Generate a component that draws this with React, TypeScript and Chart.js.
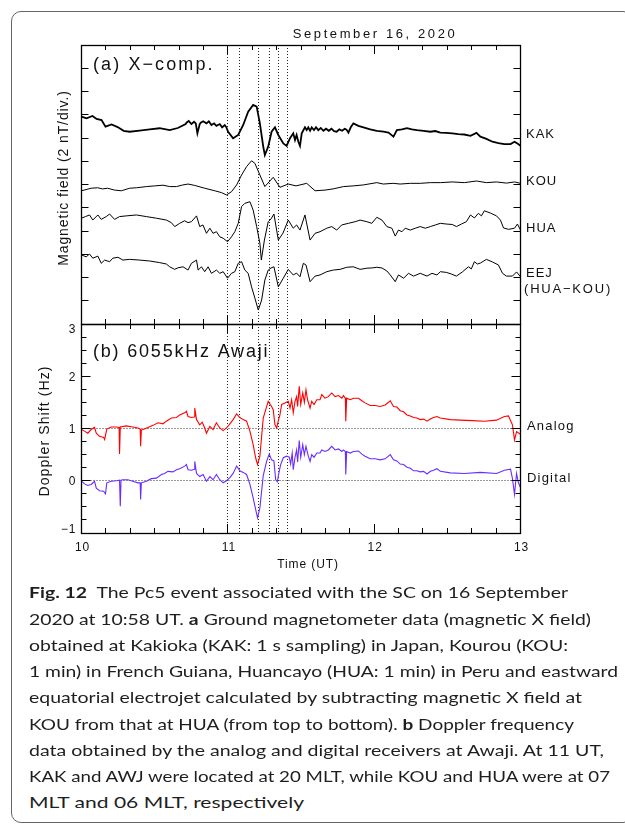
import React, { useEffect, useLayoutEffect, useRef } from 'react';
import { Chart, registerables } from 'chart.js';

Chart.register(...registerables);

// ---------------- axes / ticks ----------------
const TIME_MIN = 10;
const TIME_MAX = 13;
const TIME_MAJOR = [10, 11, 12, 13];
const TIME_LABELS = ['10', '11', '12', '13'];
const TIME_MINOR_STEP = 1 / 6;
const EVENT_TIMES = [11.0, 11.083, 11.208, 11.283, 11.345, 11.41];

const MAG_MIN = 0;
const MAG_MAX = 12;
const MAG_TICKS = [1, 2, 3, 4, 5, 6, 7, 8, 9, 10, 11];

const DOP_MIN = -1;
const DOP_MAX = 3;
const DOP_MAJOR = [-1, 0, 1, 2, 3];
const DOP_LABELS = ['\u22121', '0', '1', '2', '3'];
const DOP_MINOR_STEP = 0.25;
const DOP_REF = [0, 1];

const STATION_NAMES = ['KAK', 'KOU', 'HUA', 'EEJ', '(HUA\u2212KOU)'];
const RECEIVER_NAMES = ['Analog', 'Digital'];

// ---------------- series (time UT, value) ----------------
const KAK: [number, number][] = [
  [10.0, 8.92], [10.034, 8.85], [10.075, 8.95], [10.103, 8.82], [10.137, 8.77], [10.164, 8.49],
  [10.205, 8.58], [10.247, 8.47], [10.288, 8.31], [10.329, 8.27], [10.397, 8.32], [10.466, 8.37],
  [10.534, 8.42], [10.603, 8.34], [10.658, 8.43], [10.712, 8.6], [10.717, 8.66], [10.733, 8.73],
  [10.751, 8.6], [10.769, 8.7], [10.781, 8.63], [10.792, 8.2], [10.808, 8.6], [10.815, 8.66],
  [10.831, 8.72], [10.854, 8.63], [10.87, 8.72], [10.888, 8.56], [10.906, 8.63], [10.922, 8.52],
  [10.945, 8.6], [10.961, 8.46], [10.979, 8.56], [10.99, 8.46],
  [11.002, 8.27], [11.036, 7.99], [11.071, 8.13], [11.105, 8.56], [11.139, 9.13], [11.173, 9.42],
  [11.197, 9.35], [11.219, 8.63], [11.242, 7.63], [11.253, 7.27], [11.276, 7.63], [11.299, 8.27],
  [11.322, 8.46], [11.345, 8.13], [11.379, 7.77], [11.402, 7.66], [11.425, 7.99], [11.447, 8.2],
  [11.459, 7.91], [11.47, 8.13], [11.482, 7.84], [11.493, 7.66], [11.505, 8.2], [11.527, 8.46],
  [11.539, 8.34], [11.55, 8.46], [11.562, 8.31], [11.573, 8.46], [11.589, 8.34], [11.603, 8.46],
  [11.618, 8.34], [11.635, 8.43], [11.653, 8.31], [11.671, 8.4], [11.69, 8.31], [11.708, 8.4],
  [11.726, 8.29], [11.744, 8.27], [11.762, 8.37], [11.781, 8.31], [11.799, 8.4], [11.811, 8.36],
  [11.824, 8.23], [11.84, 8.46], [11.858, 8.63],
  [11.892, 8.52], [11.927, 8.46], [11.973, 8.37], [12.018, 8.31], [12.064, 8.27], [12.098, 8.23],
  [12.132, 8.06], [12.155, 8.34], [12.19, 8.37], [12.224, 8.42], [12.258, 8.37], [12.292, 8.34],
  [12.338, 8.31], [12.384, 8.27], [12.418, 8.3], [12.452, 8.23], [12.493, 8.22], [12.534, 8.2],
  [12.575, 8.17], [12.616, 8.15], [12.658, 8.09], [12.699, 8.22], [12.726, 8.06], [12.767, 7.96],
  [12.808, 7.84], [12.849, 7.78], [12.89, 7.74], [12.932, 7.74], [12.959, 7.84], [12.979, 7.76],
  [13.0, 7.67],
];

const KOU: [number, number][] = [
  [10.0, 5.73], [10.066, 5.84], [10.11, 5.86], [10.144, 5.81], [10.178, 5.84], [10.226, 5.76],
  [10.272, 5.73], [10.329, 5.84], [10.377, 5.86], [10.443, 5.91], [10.5, 5.94], [10.557, 5.97],
  [10.603, 5.91], [10.649, 5.91], [10.692, 5.98], [10.728, 6.02], [10.774, 5.96], [10.842, 5.84],
  [10.911, 5.73], [10.957, 5.65], [10.991, 5.55], [11.025, 5.69], [11.06, 5.98], [11.094, 6.41],
  [11.128, 6.77], [11.162, 7.02], [11.185, 6.91], [11.219, 6.41], [11.253, 5.91], [11.31, 6.31],
  [11.356, 5.88], [11.413, 6.02], [11.466, 5.94], [11.539, 6.05], [11.596, 5.73], [11.664, 5.76],
  [11.719, 5.81], [11.79, 5.91], [11.856, 5.94], [11.925, 5.98], [12.018, 6.08], [12.062, 6.02],
  [12.13, 6.05], [12.178, 6.02], [12.247, 6.05], [12.315, 6.05], [12.384, 6.08], [12.452, 6.08],
  [12.534, 6.11], [12.616, 6.08], [12.699, 6.15], [12.767, 6.08], [12.836, 6.11], [12.904, 6.06],
  [12.959, 6.11], [13.0, 6.05],
];

const HUA: [number, number][] = [
  [10.0, 4.55], [10.027, 4.62], [10.055, 4.69], [10.077, 4.47], [10.112, 4.69], [10.135, 4.5],
  [10.169, 4.62], [10.192, 4.73], [10.226, 4.5], [10.26, 4.62], [10.306, 4.65], [10.375, 4.69],
  [10.443, 4.62], [10.512, 4.55], [10.58, 4.47], [10.614, 4.36], [10.637, 4.19], [10.671, 4.33],
  [10.705, 4.44], [10.728, 4.36], [10.751, 4.4], [10.786, 4.65], [10.808, 4.19], [10.83, 4.26],
  [10.854, 3.9], [10.877, 4.12], [10.899, 3.9], [10.922, 3.97], [10.945, 3.75], [10.968, 3.69],
  [10.998, 3.54], [11.025, 3.75], [11.048, 3.97], [11.071, 4.33], [11.094, 5.05], [11.116, 5.19],
  [11.151, 5.26], [11.173, 4.9], [11.197, 4.19], [11.219, 3.47], [11.229, 2.75], [11.25, 3.61],
  [11.276, 4.4], [11.295, 4.52], [11.315, 4.73], [11.345, 3.61], [11.377, 3.91], [11.413, 4.47],
  [11.447, 4.12], [11.47, 4.26], [11.493, 4.04], [11.527, 4.69], [11.562, 3.61], [11.596, 3.9],
  [11.63, 3.97], [11.676, 4.12], [11.71, 4.19], [11.744, 4.04], [11.778, 4.26], [11.824, 4.33],
  [11.87, 4.4], [11.904, 4.47], [11.95, 4.4], [11.984, 4.33], [12.018, 4.59], [12.053, 4.47],
  [12.087, 4.19], [12.121, 4.12], [12.144, 3.78], [12.166, 4.04], [12.19, 3.97], [12.212, 4.12],
  [12.247, 4.04], [12.281, 4.12], [12.315, 4.19], [12.349, 4.12], [12.384, 4.19], [12.418, 4.26],
  [12.452, 4.33], [12.493, 4.3], [12.534, 4.28], [12.562, 4.19], [12.596, 4.3], [12.63, 4.4],
  [12.658, 4.69], [12.685, 4.56], [12.712, 4.76], [12.733, 4.65], [12.753, 4.87], [12.795, 4.77],
  [12.836, 4.65], [12.863, 4.47], [12.884, 4.13], [12.918, 4.07], [12.959, 4.12], [12.979, 4.3],
  [13.0, 4.04],
];

const EEJ: [number, number][] = [
  [10.0, 2.97], [10.032, 2.89], [10.055, 3.01], [10.077, 2.83], [10.112, 2.92], [10.135, 2.61],
  [10.158, 2.75], [10.192, 2.68], [10.214, 2.83], [10.249, 2.87], [10.283, 2.75], [10.329, 2.78],
  [10.397, 2.75], [10.466, 2.71], [10.534, 2.64], [10.58, 2.58], [10.603, 2.46], [10.637, 2.35],
  [10.66, 2.42], [10.694, 2.46], [10.728, 2.32], [10.751, 2.61], [10.786, 2.75], [10.797, 2.32],
  [10.82, 2.46], [10.842, 2.25], [10.865, 2.46], [10.888, 2.18], [10.922, 2.32], [10.945, 2.18],
  [10.968, 2.25], [10.998, 1.97], [11.025, 2.18], [11.048, 2.25], [11.071, 2.61], [11.094, 2.68],
  [11.116, 2.32], [11.139, 2.18], [11.162, 1.6], [11.185, 1.11], [11.208, 0.6], [11.231, 1.03],
  [11.242, 1.46], [11.253, 1.89], [11.276, 2.32], [11.295, 2.41], [11.315, 2.46], [11.345, 1.6],
  [11.379, 1.97], [11.413, 2.35], [11.447, 2.11], [11.47, 2.19], [11.493, 2.03], [11.516, 2.61],
  [11.534, 2.54], [11.562, 1.82], [11.596, 2.06], [11.63, 2.11], [11.676, 2.25], [11.721, 2.32],
  [11.767, 2.35], [11.813, 2.44], [11.858, 2.46], [11.904, 2.35], [11.95, 2.4], [11.984, 2.41],
  [12.018, 2.44], [12.053, 2.41], [12.087, 2.28], [12.11, 2.11], [12.144, 1.82], [12.166, 2.11],
  [12.201, 1.97], [12.235, 2.18], [12.269, 2.06], [12.315, 2.18], [12.361, 2.06], [12.395, 2.18],
  [12.429, 2.11], [12.452, 2.25], [12.493, 2.22], [12.527, 2.15], [12.562, 2.06], [12.603, 2.24],
  [12.644, 2.46], [12.664, 2.37], [12.685, 2.68], [12.705, 2.58], [12.726, 2.62], [12.767, 2.78],
  [12.808, 2.67], [12.849, 2.54], [12.877, 2.18], [12.904, 2.06], [12.945, 2.06], [12.973, 2.24],
  [13.0, 2.03],
];

const ANALOG: [number, number][] = [
  [10.0, 0.98], [10.021, 0.95], [10.043, 0.91], [10.066, 0.98], [10.089, 1.02], [10.101, 0.91],
  [10.123, 0.85], [10.151, 0.83], [10.158, 0.79], [10.173, 0.99], [10.203, 1.03], [10.238, 1.03],
  [10.257, 1.02], [10.26, 0.51], [10.265, 1.03], [10.306, 1.05], [10.351, 1.03], [10.386, 1.01],
  [10.401, 0.99], [10.404, 0.66], [10.409, 0.97], [10.42, 0.98], [10.454, 1.02], [10.488, 1.06],
  [10.523, 1.11], [10.557, 1.09], [10.58, 1.14], [10.614, 1.2], [10.649, 1.21], [10.671, 1.26],
  [10.705, 1.3], [10.717, 1.33], [10.728, 1.23], [10.751, 1.21], [10.771, 1.22], [10.774, 1.39],
  [10.786, 1.17], [10.808, 1.07], [10.825, 1.12], [10.842, 1.01], [10.854, 0.91], [10.877, 1.04],
  [10.899, 0.98], [10.922, 1.11], [10.945, 1.01], [10.968, 0.96], [10.991, 1.01], [11.014, 1.09],
  [11.036, 1.17], [11.06, 1.28], [11.082, 1.21], [11.105, 1.17], [11.128, 1.14], [11.151, 0.95],
  [11.173, 0.69], [11.19, 0.44], [11.203, 0.31], [11.219, 0.47], [11.242, 1.2], [11.265, 1.42],
  [11.276, 1.52], [11.299, 1.42], [11.31, 1.36], [11.322, 1.07], [11.334, 1.01], [11.345, 1.15],
  [11.356, 1.26], [11.368, 1.46], [11.39, 1.49], [11.413, 1.52], [11.425, 1.39], [11.436, 1.55],
  [11.447, 1.3], [11.459, 1.52], [11.47, 1.61], [11.477, 1.42], [11.488, 1.81], [11.498, 1.46],
  [11.512, 1.68], [11.523, 1.5], [11.534, 1.74], [11.545, 1.55], [11.562, 1.39], [11.573, 1.52],
  [11.589, 1.46], [11.608, 1.55], [11.63, 1.55], [11.642, 1.65], [11.664, 1.58], [11.687, 1.61],
  [11.71, 1.68], [11.733, 1.61], [11.756, 1.63], [11.779, 1.58], [11.79, 1.63], [11.803, 1.58],
  [11.806, 1.14], [11.812, 1.58], [11.836, 1.55], [11.858, 1.58], [11.893, 1.58], [11.916, 1.53],
  [11.938, 1.49], [11.973, 1.44], [12.007, 1.44], [12.041, 1.42], [12.075, 1.45], [12.11, 1.53],
  [12.132, 1.42], [12.155, 1.41], [12.178, 1.34], [12.201, 1.32], [12.224, 1.26], [12.247, 1.24],
  [12.269, 1.21], [12.292, 1.2], [12.315, 1.17], [12.338, 1.18], [12.361, 1.14], [12.384, 1.18],
  [12.406, 1.21], [12.429, 1.23], [12.452, 1.2], [12.521, 1.17], [12.589, 1.16], [12.671, 1.15],
  [12.753, 1.14], [12.836, 1.16], [12.89, 1.23], [12.918, 1.24], [12.945, 1.07], [12.959, 0.78],
  [12.973, 0.94], [13.0, 0.89],
];

const DIGITAL: [number, number][] = [
  [10.0, -0.01], [10.021, -0.06], [10.043, -0.09], [10.066, -0.07], [10.089, -0.01], [10.101, -0.14],
  [10.123, -0.19], [10.151, -0.2], [10.164, -0.25], [10.173, -0.04], [10.203, -0.01], [10.238, 0.0],
  [10.26, 0.01], [10.265, -0.49], [10.27, 0.01], [10.283, 0.02], [10.317, 0.02], [10.351, -0.01],
  [10.386, -0.04], [10.401, -0.04], [10.404, -0.36], [10.409, -0.04], [10.443, -0.01], [10.477, 0.04],
  [10.512, 0.05], [10.546, 0.12], [10.568, 0.14], [10.591, 0.18], [10.625, 0.17], [10.649, 0.21],
  [10.671, 0.23], [10.705, 0.28], [10.717, 0.31], [10.728, 0.21], [10.751, 0.2], [10.771, 0.22],
  [10.774, 0.37], [10.786, 0.14], [10.808, 0.08], [10.831, 0.12], [10.854, -0.01], [10.877, 0.08],
  [10.899, 0.02], [10.922, 0.12], [10.945, 0.02], [10.968, -0.04], [10.991, 0.0], [11.014, 0.06],
  [11.036, 0.14], [11.06, 0.28], [11.082, 0.19], [11.105, 0.16], [11.128, 0.12], [11.151, -0.07],
  [11.173, -0.33], [11.19, -0.55], [11.203, -0.71], [11.219, -0.52], [11.242, 0.1], [11.265, 0.37],
  [11.283, 0.51], [11.299, 0.4], [11.315, 0.38], [11.327, 0.02], [11.338, -0.02], [11.351, 0.18],
  [11.361, 0.31], [11.379, 0.44], [11.402, 0.47], [11.42, 0.45], [11.429, 0.32], [11.44, 0.53],
  [11.447, 0.21], [11.459, 0.45], [11.47, 0.59], [11.477, 0.36], [11.488, 0.77], [11.498, 0.45],
  [11.512, 0.69], [11.523, 0.5], [11.534, 0.66], [11.55, 0.47], [11.562, 0.37], [11.573, 0.5],
  [11.589, 0.45], [11.608, 0.53], [11.63, 0.53], [11.642, 0.59], [11.664, 0.56], [11.687, 0.59],
  [11.71, 0.66], [11.733, 0.59], [11.756, 0.61], [11.779, 0.56], [11.79, 0.59], [11.803, 0.56],
  [11.806, 0.12], [11.812, 0.56], [11.836, 0.53], [11.858, 0.56], [11.893, 0.57], [11.916, 0.51],
  [11.938, 0.47], [11.973, 0.42], [12.007, 0.42], [12.041, 0.4], [12.075, 0.42], [12.11, 0.5],
  [12.132, 0.4], [12.155, 0.38], [12.178, 0.32], [12.201, 0.31], [12.224, 0.26], [12.247, 0.24],
  [12.269, 0.19], [12.292, 0.19], [12.315, 0.17], [12.338, 0.18], [12.361, 0.13], [12.384, 0.18],
  [12.406, 0.2], [12.429, 0.23], [12.452, 0.18], [12.521, 0.15], [12.616, 0.14], [12.726, 0.16],
  [12.836, 0.14], [12.89, 0.2], [12.932, 0.22], [12.945, 0.04], [12.959, -0.26], [12.973, 0.14],
  [12.986, -0.04], [13.0, -0.13],
];

// ---------------- caption ----------------
const CAPTION: [string, boolean][][] = [
  [['Fig. 12', true], ['  The Pc5 event associated with the SC on 16 September', false]],
  [['2020 at 10:58 UT. ', false], ['a', true], [' Ground magnetometer data (magnetic X field)', false]],
  [['obtained at Kakioka (KAK: 1 s sampling) in Japan, Kourou (KOU:', false]],
  [['1 min) in French Guiana, Huancayo (HUA: 1 min) in Peru and eastward', false]],
  [['equatorial electrojet calculated by subtracting magnetic X field at', false]],
  [['KOU from that at HUA (from top to bottom). ', false], ['b', true], [' Doppler frequency', false]],
  [['data obtained by the analog and digital receivers at Awaji. At 11 UT,', false]],
  [['KAK and AWJ were located at 20 MLT, while KOU and HUA were at 07', false]],
  [['MLT and 06 MLT, respectively', false]],
];

// ---------------- drawing helpers ----------------
const FONT = '"Liberation Sans", Arial, sans-serif';
const crisp = (v: number) => Math.round(v - 0.5) + 0.5;
const B_OFFSET = 316;

function seg(ctx: CanvasRenderingContext2D, x1: number, y1: number, x2: number, y2: number) {
  ctx.beginPath();
  ctx.moveTo(x1, y1);
  ctx.lineTo(x2, y2);
  ctx.stroke();
}

function label(
  ctx: CanvasRenderingContext2D, s: string, x: number, y: number, size: number,
  spacing: number, align: CanvasTextAlign = 'left', rotate = false,
) {
  ctx.save();
  ctx.font = `${size}px ${FONT}`;
  (ctx as any).letterSpacing = `${spacing}px`;
  ctx.fillStyle = '#111';
  ctx.textBaseline = 'alphabetic';
  ctx.textAlign = align;
  if (rotate) {
    ctx.translate(x, y);
    ctx.rotate(-Math.PI / 2);
    ctx.fillText(s, 0, 0);
  } else {
    ctx.fillText(s, x, y);
  }
  ctx.restore();
}

function drawFrame(ctx: CanvasRenderingContext2D, a: any) {
  ctx.save();
  ctx.strokeStyle = '#000';
  ctx.lineWidth = 1.3;
  ctx.setLineDash([]);
  const l = crisp(a.left), r = crisp(a.right), t = crisp(a.top), b = crisp(a.bottom);
  ctx.strokeRect(l, t, r - l, b - t);
  ctx.restore();
}

function drawTimeTicks(ctx: CanvasRenderingContext2D, x: any, a: any) {
  ctx.save();
  ctx.strokeStyle = '#000';
  ctx.lineWidth = 1;
  const n = Math.round((TIME_MAX - TIME_MIN) / TIME_MINOR_STEP);
  for (let k = 0; k <= n; k++) {
    const t = TIME_MIN + k * TIME_MINOR_STEP;
    const major = TIME_MAJOR.some((m) => Math.abs(m - t) < 1e-6);
    const len = major ? 9 : 5;
    const px = crisp(x.getPixelForValue(t));
    seg(ctx, px, a.top, px, a.top + len);
    seg(ctx, px, a.bottom, px, a.bottom - len);
  }
  ctx.restore();
}

function drawEventLines(ctx: CanvasRenderingContext2D, x: any, a: any) {
  ctx.save();
  ctx.strokeStyle = '#222';
  ctx.lineWidth = 1;
  ctx.setLineDash([1, 2]);
  EVENT_TIMES.forEach((t) => {
    const px = crisp(x.getPixelForValue(t));
    seg(ctx, px, a.top, px, a.bottom);
  });
  ctx.restore();
}

const panelAPlugin = {
  id: 'panelA',
  beforeDatasetsDraw(chart: any) {
    drawEventLines(chart.ctx, chart.scales.x, chart.chartArea);
  },
  afterDraw(chart: any) {
    const ctx: CanvasRenderingContext2D = chart.ctx;
    const a = chart.chartArea;
    const x = chart.scales.x;
    const y = chart.scales.y;
    drawFrame(ctx, a);
    drawTimeTicks(ctx, x, a);
    ctx.save();
    ctx.strokeStyle = '#000';
    ctx.lineWidth = 1;
    MAG_TICKS.forEach((v) => {
      const py = crisp(y.getPixelForValue(v));
      seg(ctx, a.left, py, a.left + 7, py);
      seg(ctx, a.right, py, a.right - 7, py);
    });
    ctx.restore();
    // texts
    label(ctx, 'September 16, 2020', 375, 37.5, 13, 2.6, 'center');
    label(ctx, '(a) X\u2212comp.', 93, 70, 18, 2.1, 'left');
    label(ctx, 'Magnetic field (2 nT/div.)', 67.5, 178, 14, 0.9, 'center', true);
    const names = STATION_NAMES;
    label(ctx, names[0], 526, 138, 13, 1.0);
    label(ctx, names[1], 526, 185, 13, 1.0);
    label(ctx, names[2], 526, 231.5, 13, 1.0);
    label(ctx, names[3], 526, 276.5, 13, 1.0);
    label(ctx, names[4], 524, 292.5, 13, 1.8);
  },
};

const panelBPlugin = {
  id: 'panelB',
  beforeDatasetsDraw(chart: any) {
    const ctx: CanvasRenderingContext2D = chart.ctx;
    const a = chart.chartArea;
    const y = chart.scales.y;
    drawEventLines(ctx, chart.scales.x, a);
    ctx.save();
    ctx.strokeStyle = '#333';
    ctx.lineWidth = 1;
    ctx.setLineDash([1, 2]);
    DOP_REF.forEach((v) => {
      const py = crisp(y.getPixelForValue(v));
      seg(ctx, a.left, py, a.right, py);
    });
    ctx.restore();
  },
  afterDraw(chart: any) {
    const ctx: CanvasRenderingContext2D = chart.ctx;
    const a = chart.chartArea;
    const x = chart.scales.x;
    const y = chart.scales.y;
    drawFrame(ctx, a);
    drawTimeTicks(ctx, x, a);
    ctx.save();
    ctx.strokeStyle = '#000';
    ctx.lineWidth = 1;
    const n = Math.round((DOP_MAX - DOP_MIN) / DOP_MINOR_STEP);
    for (let k = 0; k <= n; k++) {
      const v = DOP_MIN + k * DOP_MINOR_STEP;
      const major = DOP_MAJOR.some((m) => Math.abs(m - v) < 1e-6);
      const len = major ? 9 : 5;
      const py = crisp(y.getPixelForValue(v));
      seg(ctx, a.left, py, a.left + len, py);
      seg(ctx, a.right, py, a.right - len, py);
    }
    ctx.restore();
    // y tick labels
    DOP_MAJOR.forEach((v, i) => {
      let cy = y.getPixelForValue(v);
      cy = Math.max(a.top + 4.5, Math.min(a.bottom - 4.5, cy));
      label(ctx, DOP_LABELS[i], 76, cy + 4.3, 12, 0.6, 'right');
    });
    // x tick labels
    TIME_MAJOR.forEach((t, i) => {
      label(ctx, TIME_LABELS[i], x.getPixelForValue(t) + 1, 551.3 - B_OFFSET, 12, 0.9, 'center');
    });
    label(ctx, 'Time (UT)', 308, 568 - B_OFFSET, 12, 0.9, 'center');
    label(ctx, '(b) 6055kHz Awaji', 93, 357.4 - B_OFFSET, 18, 1.8, 'left');
    label(ctx, 'Doppler Shift (Hz)', 49, 431 - B_OFFSET, 14, 1.1, 'center', true);
    label(ctx, RECEIVER_NAMES[0], 527, 429.5 - B_OFFSET, 13, 1.2);
    label(ctx, RECEIVER_NAMES[1], 527, 481.7 - B_OFFSET, 13, 1.2);
  },
};

function lineSet(pts: [number, number][], color: string, width: number) {
  return {
    data: pts.map(([t, v]) => ({ x: t, y: v })),
    borderColor: color,
    borderWidth: width,
    pointRadius: 0,
    tension: 0,
    fill: false,
  };
}

function baseOptions(yMin: number, yMax: number, padding: any) {
  return {
    animation: false,
    responsive: false,
    maintainAspectRatio: false,
    events: [],
    layout: { padding },
    scales: {
      x: { type: 'linear', min: TIME_MIN, max: TIME_MAX, display: false },
      y: { type: 'linear', min: yMin, max: yMax, display: false },
    },
    plugins: { legend: { display: false }, tooltip: { enabled: false }, title: { display: false } },
  } as any;
}

const CAPTION_LEFT = 29;
const CAPTION_RIGHT = [568, 591, 568, 618, 582, 574, 604, 610, 304];

function Caption() {
  const refs = useRef<(HTMLDivElement | null)[]>([]);
  useLayoutEffect(() => {
    refs.current.forEach((el, i) => {
      if (!el) return;
      el.style.transform = 'none';
      const w = el.getBoundingClientRect().width;
      if (w > 0) el.style.transform = `scaleX(${(CAPTION_RIGHT[i] - CAPTION_LEFT) / w})`;
    });
  }, []);
  return (
    <>
      {CAPTION.map((line, i) => (
        <div
          key={i}
          ref={(el) => { refs.current[i] = el; }}
          style={{
            position: 'absolute',
            left: CAPTION_LEFT,
            top: 598.7 + 26.25 * i - 13.3,
            fontFamily: 'Lato, "Open Sans", sans-serif',
            fontSize: 15,
            lineHeight: '15px',
            whiteSpace: 'pre',
            color: '#1e1e1e',
            transformOrigin: '0 0',
          }}
        >
          {line.map(([s, bold], j) => (
            <span key={j} style={{ fontWeight: bold ? 700 : 400 }}>{s}</span>
          ))}
        </div>
      ))}
    </>
  );
}

export default function App() {
  const aRef = useRef<HTMLCanvasElement | null>(null);
  const bRef = useRef<HTMLCanvasElement | null>(null);

  useEffect(() => {
    if (!aRef.current || !bRef.current) return;
    const chartA = new Chart(aRef.current, {
      type: 'line',
      data: {
        datasets: [
          lineSet(KAK, '#000', 1.8),
          lineSet(KOU, '#000', 1),
          lineSet(HUA, '#000', 1),
          lineSet(EEJ, '#000', 1),
        ],
      },
      options: baseOptions(MAG_MIN, MAG_MAX, { left: 81.5, right: 104.5, top: 45, bottom: 6 }),
      plugins: [panelAPlugin],
    } as any);
    const chartB = new Chart(bRef.current, {
      type: 'line',
      data: {
        datasets: [
          lineSet(ANALOG, '#ff0000', 1.1),
          lineSet(DIGITAL, '#6a2cff', 1.1),
        ],
      },
      options: baseOptions(DOP_MIN, DOP_MAX, { left: 81.5, right: 104.5, top: 8, bottom: 43 }),
      plugins: [panelBPlugin],
    } as any);
    return () => {
      chartA.destroy();
      chartB.destroy();
    };
  }, []);

  return (
    <div
      style={{
        position: 'absolute',
        left: 0,
        top: 0,
        width: 625,
        height: 826,
        background: '#fff',
        overflow: 'hidden',
      }}
    >
      <div
        style={{
          position: 'absolute',
          left: 11,
          top: 11,
          width: 620,
          height: 810,
          border: '1px solid #666',
          borderRadius: 10,
        }}
      />
      <canvas
        ref={aRef}
        width={625}
        height={330}
        style={{ position: 'absolute', left: 0, top: 0, width: 625, height: 330 }}
      />
      <canvas
        ref={bRef}
        width={625}
        height={260}
        style={{ position: 'absolute', left: 0, top: B_OFFSET, width: 625, height: 260 }}
      />
      <Caption />
    </div>
  );
}
